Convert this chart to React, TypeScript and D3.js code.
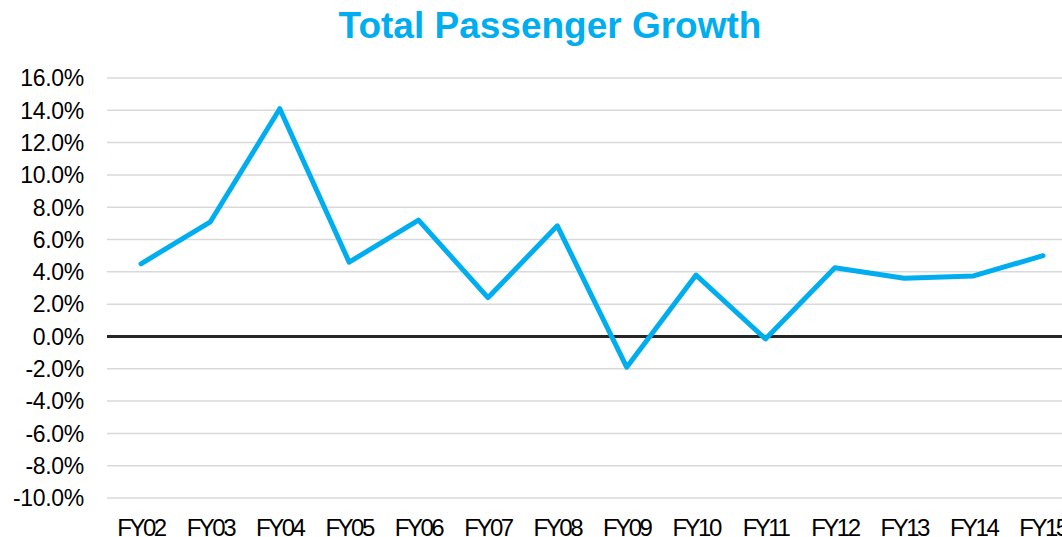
import { useEffect, useRef } from 'react';
import * as d3 from 'd3';

const years = ['FY02', 'FY03', 'FY04', 'FY05', 'FY06', 'FY07', 'FY08', 'FY09', 'FY10', 'FY11', 'FY12', 'FY13', 'FY14', 'FY15'];
const growth = [4.5, 7.1, 14.1, 4.6, 7.2, 2.4, 6.85, -1.9, 3.8, -0.15, 4.25, 3.6, 3.75, 5.0];
const yTicks = [16, 14, 12, 10, 8, 6, 4, 2, 0, -2, -4, -6, -8, -10];

const BLUE = '#00AEEF';

export default function App() {
  const svgRef = useRef<SVGSVGElement>(null);

  useEffect(() => {
    if (!svgRef.current) return;
    const svg = d3.select(svgRef.current);
    svg.selectAll('*').remove();

    const width = 1062;
    const height = 537;
    const left = 107;
    const right = 1062;

    const y = d3.scaleLinear().domain([-10, 16]).range([498, 78]);
    const x = d3.scalePoint<string>().domain(years).range([141, 1043]);

    svg.attr('width', width).attr('height', height);

    // titulo
    svg.append('text')
      .attr('x', 550)
      .attr('y', 38)
      .attr('text-anchor', 'middle')
      .attr('font-family', 'Liberation Sans, Arial, sans-serif')
      .attr('font-weight', 'bold')
      .attr('font-size', 37)
      .attr('fill', BLUE)
      .text('Total Passenger Growth');

    // grilla
    svg.append('g')
      .selectAll('line')
      .data(yTicks.filter(t => t !== 0))
      .enter().append('line')
      .attr('x1', left)
      .attr('x2', right)
      .attr('y1', d => y(d))
      .attr('y2', d => y(d))
      .attr('stroke', '#d9d9d9')
      .attr('stroke-width', 1.5);

    // etiquetas eje y
    svg.append('g')
      .selectAll('text')
      .data(yTicks)
      .enter().append('text')
      .attr('x', 84)
      .attr('y', d => y(d))
      .attr('dy', '0.36em')
      .attr('text-anchor', 'end')
      .attr('font-family', 'Liberation Sans, Arial, sans-serif')
      .attr('font-size', 23)
      .attr('letter-spacing', -0.3)
      .attr('fill', '#000')
      .text(d => `${d.toFixed(1)}%`);

    // etiquetas eje x
    svg.append('g')
      .selectAll('text')
      .data(years)
      .enter().append('text')
      .attr('x', d => x(d) as number)
      .attr('y', 536)
      .attr('text-anchor', 'middle')
      .attr('font-family', 'Liberation Sans, Arial, sans-serif')
      .attr('font-size', 24)
      .attr('letter-spacing', -2.5)
      .attr('fill', '#000')
      .text(d => d);

    // linea cero
    svg.append('line')
      .attr('x1', left)
      .attr('x2', right)
      .attr('y1', y(0))
      .attr('y2', y(0))
      .attr('stroke', '#262626')
      .attr('stroke-width', 3);

    const line = d3.line<number>()
      .x((_, i) => x(years[i]) as number)
      .y(d => y(d));

    svg.append('path')
      .datum(growth)
      .attr('fill', 'none')
      .attr('stroke', BLUE)
      .attr('stroke-width', 5)
      .attr('stroke-linejoin', 'round')
      .attr('stroke-linecap', 'round')
      .attr('d', line);
  }, []);

  return (
    <svg
      ref={svgRef}
      style={{ position: 'absolute', left: 0, top: 0, display: 'block', background: '#fff' }}
    />
  );
}
